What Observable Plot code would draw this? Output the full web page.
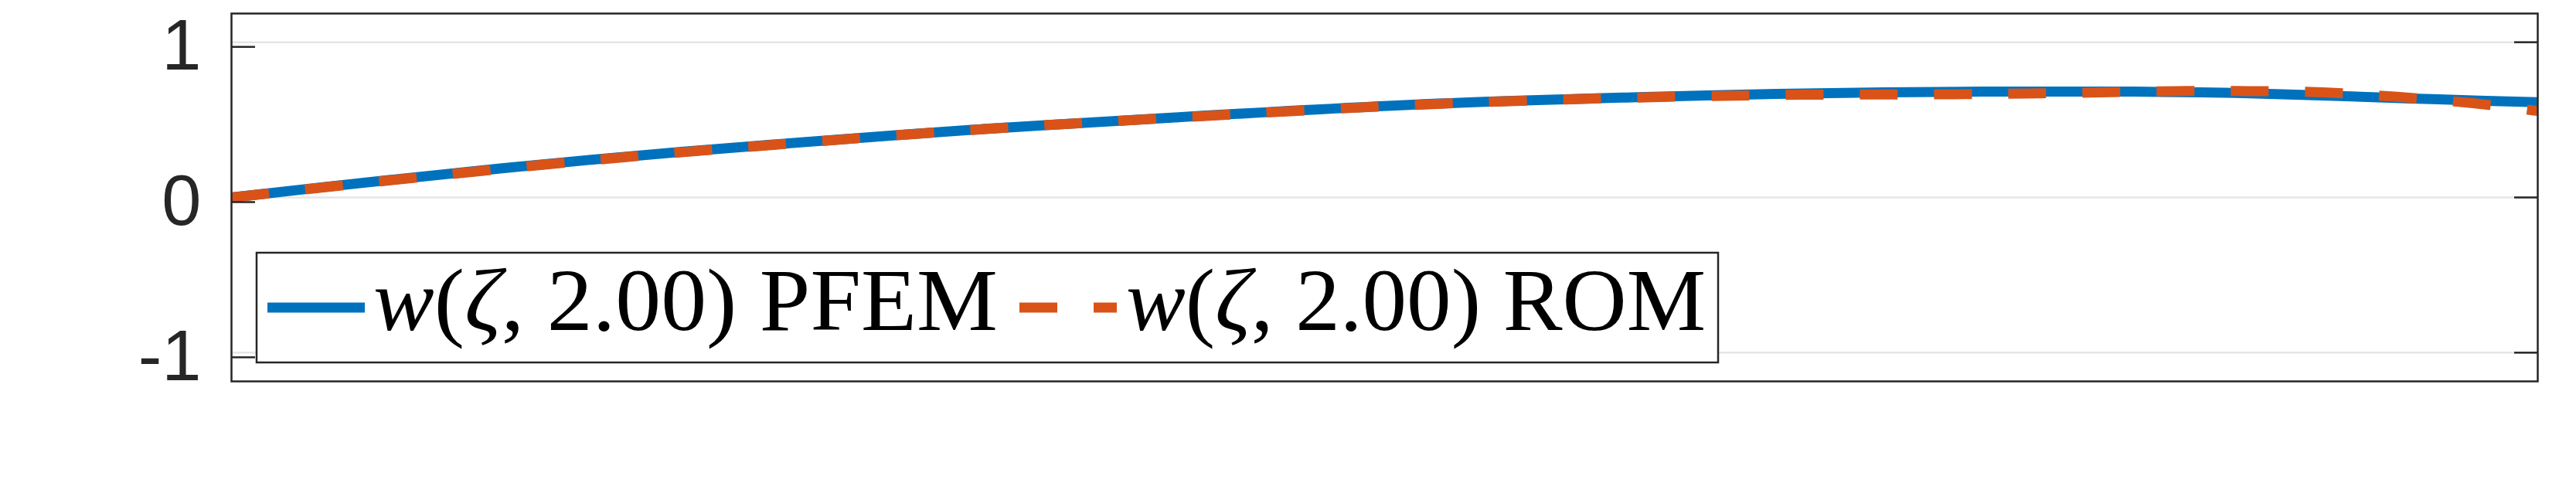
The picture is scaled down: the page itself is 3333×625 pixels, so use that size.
<!DOCTYPE html>
<html>
<head>
<meta charset="utf-8">
<script src="https://cdn.jsdelivr.net/npm/d3@7"></script>
<script src="https://cdn.jsdelivr.net/npm/@observablehq/plot@0.6"></script>
<style>
  html, body { margin: 0; padding: 0; background: #fff; }
  #wrap { position: relative; width: 3333px; height: 625px; }
  #legend { position: absolute; left: 0; top: 0; pointer-events: none; }
</style>
</head>
<body>
<div id="wrap"></div>
<script>
// ---- data ----
const pfemZeta = [0, 0.0674, 0.1545, 0.235, 0.322, 0.409, 0.436, 0.523, 0.610, 0.670, 0.759, 0.825, 0.869, 0.914, 0.957, 1.0];
const pfemW    = [0, 0.111, 0.241, 0.341, 0.437, 0.515, 0.539, 0.605, 0.646, 0.667, 0.682, 0.682, 0.673, 0.653, 0.632, 0.613];
const romZeta  = [0, 0.0674, 0.1545, 0.235, 0.322, 0.409, 0.523, 0.610, 0.682, 0.714, 0.747, 0.779, 0.811, 0.843, 0.875, 0.907, 0.939, 0.972, 1.0];
const romW     = [0, 0.108, 0.238, 0.339, 0.436, 0.514, 0.603, 0.644, 0.662, 0.663, 0.665, 0.670, 0.677, 0.685, 0.685, 0.677, 0.648, 0.607, 0.557];
const yTicks = [-1, 0, 1];
const seriesNames = ["PFEM", "ROM"];
const timeLabel = "2.00";

const blue = "#0072BD", orange = "#D95319", axisColor = "#262626";

const pfem = pfemZeta.map((z, i) => ({zeta: z, w: pfemW[i]}));
const rom = romZeta.map((z, i) => ({zeta: z, w: romW[i]}));

const W = 3333, H = 625;
const chart = Plot.plot({
  width: W, height: H,
  marginLeft: 299, marginRight: 50, marginTop: 17, marginBottom: 132,
  style: {background: "#fff", color: axisColor, fontFamily: "'Liberation Sans', Arial, sans-serif"},
  x: {domain: [0, 1], axis: null},
  y: {domain: [-1.185, 1.185], axis: null},
  marks: [
    Plot.gridY(yTicks, {stroke: "#e6e6e6", strokeOpacity: 1, strokeWidth: 2.5}),
    Plot.line(pfem, {x: "zeta", y: "w", stroke: blue, strokeWidth: 13, curve: "catmull-rom", strokeLinecap: "butt", clip: true}),
    Plot.line(rom, {x: "zeta", y: "w", stroke: orange, strokeWidth: 13, curve: "catmull-rom", strokeDasharray: "49,47", strokeLinecap: "butt", clip: true}),
    Plot.axisY(yTicks, {anchor: "left", label: null, tickSize: -31, tickPadding: 70, strokeWidth: 2.5, fontSize: 92, dy: 6, tickFormat: d => String(d), fill: axisColor, stroke: axisColor}),
    Plot.axisY(yTicks, {anchor: "right", label: null, tickSize: -31, strokeWidth: 2.5, tickFormat: () => "", stroke: axisColor}),
    Plot.frame({stroke: axisColor, strokeWidth: 2.5})
  ]
});
const wrap = document.getElementById("wrap");
wrap.appendChild(chart);

// ---- legend overlay (inside the axes, lower left) ----
const ns = "http://www.w3.org/2000/svg";
const leg = document.createElementNS(ns, "svg");
leg.setAttribute("id", "legend");
leg.setAttribute("width", W);
leg.setAttribute("height", H);
function el(tag, attrs, parent) {
  const e = document.createElementNS(ns, tag);
  for (const k in attrs) e.setAttribute(k, attrs[k]);
  (parent || leg).appendChild(e);
  return e;
}
el("rect", {x: 332, y: 327, width: 1891, height: 142, fill: "#fff", stroke: axisColor, "stroke-width": 2.5});
const items = [
  {name: seriesNames[0], color: blue, dash: null, x0: 346, tx: 483, tw: 808},
  {name: seriesNames[1], color: orange, dash: "49,47", x0: 1319, tx: 1457, tw: 750}
];
for (const it of items) {
  const ln = el("line", {x1: it.x0, x2: it.x0 + 126, y1: 398, y2: 398, stroke: it.color, "stroke-width": 13});
  if (it.dash) ln.setAttribute("stroke-dasharray", it.dash);
  const t = el("text", {x: it.tx, y: 427, "font-family": "'Liberation Serif', 'Times New Roman', serif", "font-size": 114, fill: "#000", textLength: it.tw, lengthAdjust: "spacingAndGlyphs"});
  const parts = [["w", true], ["(", false], ["\u03B6", true], [", " + timeLabel + ") " + it.name, false]];
  for (const [s, ital] of parts) {
    const sp = el("tspan", {}, t);
    if (ital) sp.setAttribute("font-style", "italic");
    sp.textContent = s;
  }
}
wrap.appendChild(leg);
</script>
</body>
</html>
